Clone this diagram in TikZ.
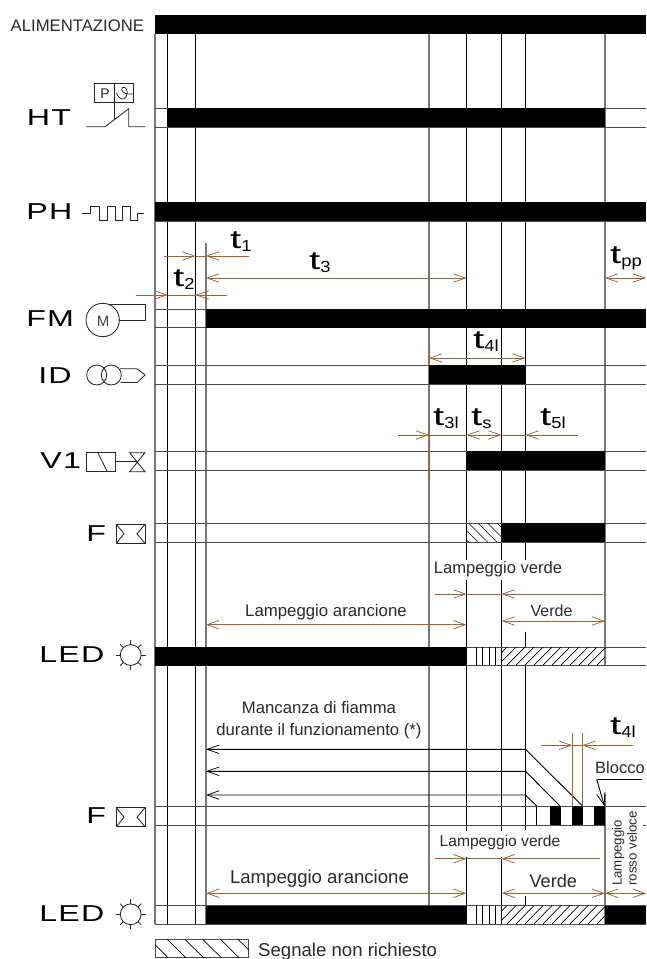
\documentclass[tikz,border=0pt]{standalone}
\usepackage{fontspec}
\setmainfont{Liberation Sans}
\newfontfamily\bigfont[LetterSpace=4]{Liberation Sans}
\usetikzlibrary{arrows.meta,calc}
\definecolor{brn}{HTML}{9C6238}
\definecolor{gln}{HTML}{777777}
\definecolor{tx}{HTML}{2A2A2A}
\newcommand{\tlab}[1]{\scalebox{1.55}[1]{\fontsize{26}{26}\selectfont t}\raisebox{-3pt}{\scalebox{1.15}[1]{\fontsize{16}{16}\selectfont #1}}}
\newcommand{\fs}[1]{\fontsize{#1}{#1}\selectfont}
\tikzset{
  >={Straight Barb[length=12pt,width=8.5pt,line width=.75pt]},
  gv/.style={draw=gln,line width=1.3pt},
  kv/.style={draw=black,line width=1pt},
  hl/.style={draw=black!70,line width=1pt},
  blk/.style={fill=black,draw=none},
  ba/.style={draw=brn,line width=.9pt},
  ka/.style={draw=black,line width=.9pt},
  ic/.style={draw=black!85,line width=.85pt},
  small/.style={text=tx,anchor=base,inner sep=0pt},
  biglab/.style={anchor=base west,inner sep=0pt,xscale=1.4,transform shape,font=\bigfont\fontsize{23}{23}\selectfont,text=black},
  tl/.style={anchor=base west,inner sep=0pt,text=black},
  hatchln/.style={draw=black,line width=.7pt},
}
\begin{document}
\begin{tikzpicture}[x=1pt,y=-1pt]
\useasboundingbox (0,0) rectangle (646,959);
\fill[white] (0,0) rectangle (646,959);
% verticals
\draw[gv] (155,34) -- (155,924);
\draw[kv] (167.5,34) -- (167.5,924);
\draw[kv] (195.5,34) -- (195.5,924);
\draw[gv] (206,243) -- (206,924);
\draw[gv] (429,34) -- (429,924);
\draw[kv] (466.5,34) -- (466.5,560) (466.5,580) -- (466.5,831) (466.5,857) -- (466.5,924);
\draw[kv] (501.5,34) -- (501.5,560) (501.5,580) -- (501.5,831) (501.5,857) -- (501.5,924);
\draw[kv] (525.5,34) -- (525.5,560) (525.5,632) -- (525.5,647) (525.5,665) -- (525.5,830) (525.5,896) -- (525.5,906);
\draw[gv] (605,34) -- (605,665) (605,794) -- (605,924);
% row lines
\foreach \a/\b in {108/127,202/221,309/327,365/384,451/470,523/542,647/665}{
  \draw[hl] (155,\a) -- (646,\a) (155,\b) -- (646,\b);
}
\draw[hl] (155,806) -- (646,806) (155,825) -- (606,825) (643,825) -- (646,825);
\draw[hl] (155,905.5) -- (646,905.5) (155,924) -- (646,924);
% bars
\fill[blk] (155,15) rectangle (646,34);
\fill[blk] (167.5,108) rectangle (605,127);
\fill[blk] (155,202) rectangle (646,221);
\fill[blk] (206,309) rectangle (646,327.5);
\fill[blk] (429,365) rectangle (525.5,384);
\fill[blk] (466.5,451) rectangle (605,470);
\fill[blk] (501.5,523) rectangle (605,542);
\fill[blk] (155,647) rectangle (466.5,665.5);
\fill[blk] (206,905.5) rectangle (466.5,924);
\fill[blk] (605,905.5) rectangle (646,924);
\fill[blk] (550,806) rectangle (561,825);
\fill[blk] (571.7,806) rectangle (582.7,825);
\fill[blk] (594,806) rectangle (605,825);
\draw[kv] (536.7,806) -- (536.7,825);
% hatches
\begin{scope}
\clip (466.5,523) rectangle (501.5,542);
\foreach \i in {440,449.5,...,510}{\draw[hatchln] (\i,523) -- (\i+19,542);}
\end{scope}
\begin{scope}
\clip (501.5,647) rectangle (605,665);
\foreach \i in {480,489,...,610}{\draw[hatchln] (\i+18,647) -- (\i,665);}
\end{scope}
\begin{scope}
\clip (501.5,905.5) rectangle (605,924);
\foreach \i in {480,489,...,610}{\draw[hatchln] (\i+18,905.5) -- (\i,924);}
\end{scope}
\foreach \yy/\zz in {647/665,905.5/924}{
  \foreach \xx in {476,482.7,489,495.5}{\draw[draw=black,line width=.8pt] (\xx,\yy) -- (\xx,\zz);}
}
\draw[hl,line width=1pt] (155,939) rectangle (248.5,957.7);
\begin{scope}
\clip (155,939) rectangle (248.5,957.7);
\foreach \i in {131.5,149.2,...,240}{\draw[hatchln] (\i,939) -- (\i+19,957.7);}
\end{scope}
% flame failure lines
\draw[ka,<-] (206,749.3) -- (525.5,749.3) -- (582.5,806);
\draw[ka,<-] (206,771.3) -- (525.5,771.3) -- (560,806);
\draw[ka,<-] (206,795) -- (525.5,795) -- (536.7,806);
% brown extensions
\draw[ba,line width=1pt] (572.3,733) -- (572.3,806);
\draw[ba,line width=1pt] (582.3,733) -- (582.3,806);
\draw[ba] (429,346) -- (429,365) (429,423) -- (429,480);
% brown arrows
\draw[ba] (195.5,256) -- (206,256);
\draw[ba,->] (164,256) -- (195.5,256);
\draw[ba,->] (249,256) -- (206,256);
\draw[ba] (167.5,295) -- (195.5,295);
\draw[ba,->] (136,295) -- (167.5,295);
\draw[ba,->] (227,295) -- (195.5,295);
\draw[ba,<->] (206,278) -- (466.5,278);
\draw[ba,<->] (605,278) -- (646,278);
\draw[ba,<->] (429,358) -- (525.5,358);
\draw[ba] (429,435) -- (466.5,435) (501.5,435) -- (525.5,435);
\draw[ba,->] (398,435) -- (429,435);
\draw[ba,<->] (466.5,435) -- (501.5,435);
\draw[ba,->] (578,435) -- (525.5,435);
\draw[ba] (466.5,594) -- (501.5,594);
\draw[ba,->] (435,594) -- (466.5,594);
\draw[ba,->] (603,594) -- (501.5,594);
\draw[ba,<->] (501.5,621) -- (605,621);
\draw[ba,<->] (206,624.7) -- (466.5,624.7);
\draw[ba] (572.3,745.3) -- (582.3,745.3);
\draw[ba,->] (541,745.3) -- (572.3,745.3);
\draw[ba,->] (633,745.3) -- (582.3,745.3);
\draw[ba] (466.5,858.7) -- (501.5,858.7);
\draw[ba,->] (435,858.7) -- (466.5,858.7);
\draw[ba,->] (600,858.7) -- (501.5,858.7);
\draw[ba,<->] (206,893.3) -- (466.5,893.3);
\draw[ba,<->] (501.5,893.3) -- (605,893.3);
\draw[ba,<->] (605,893.3) -- (646,893.3);
% blocco leader
\draw[draw=black,line width=.8pt] (642.3,779.3) -- (596.7,779.3);
\draw[ka,->] (596.7,779.3) -- (604.5,806);
% left labels
\node[anchor=base west,inner sep=0pt,text=tx,font=\fs{16.7}] (alim) at (10.5,31) {ALIMENTAZIONE};
\node[biglab] (ht) at (26.5,125) {HT};
\node[biglab] (ph) at (26,219) {PH};
\node[biglab] (fm) at (26,326) {FM};
\node[biglab] (id) at (38,383) {ID};
\node[biglab] (vone) at (40,468) {V1};
\node[biglab] (fa) at (86,541) {F};
\node[biglab] (leda) at (39,662) {LED};
\node[biglab] (fb) at (86,823) {F};
\node[biglab] (ledb) at (39,921) {LED};
% icons: HT
\draw[ic] (94.7,83.7) rectangle (114,102.3);
\draw[ic] (114,83.7) rectangle (133.3,102.3);
\node[inner sep=0pt,text=tx,font=\fs{14}] (pchar) at (105,93.2) {P};
\draw[ic,line width=.75pt] (116.5,93) .. controls (119,100) and (124,101) .. (126.5,96) .. controls (129,90) and (125,86) .. (122.5,87.5) .. controls (120,90) and (123,95) .. (133,94);
\draw[ic] (114,102.3) -- (114,119.5);
\draw[ic] (86.3,126.7) -- (105,126.7) -- (128.7,108.7) -- (128.7,126.7) -- (145,126.7);
% PH
\draw[ic] (82.3,213.3) -- (90.7,213.3) -- (90.7,206) -- (99.3,206) -- (99.3,220.7) -- (107.3,220.7) -- (107.3,206) -- (115,206) -- (115,220.7) -- (122.7,220.7) -- (122.7,206) -- (130.7,206) -- (130.7,220.7) -- (137.7,220.7) -- (137.7,213.3) -- (144,213.3);
% FM
\draw[ic] (102.7,320) circle[radius=16.7];
\node[inner sep=0pt,text=black!75,font=\fs{15}] (mchar) at (103,321) {M};
\draw[ic] (110,304) -- (145,304) -- (145,320) -- (119,320);
% ID
\draw[ic] (96.7,375) circle[radius=10];
\draw[ic] (111.3,375) circle[radius=10];
\draw[ic] (120,368.7) -- (137,368.7) -- (145,375) -- (137,382.5) -- (120.5,382.5);
% V1
\draw[ic] (86.7,452.7) rectangle (115.3,471.7);
\draw[ic] (97.7,452.7) -- (107.3,471.7);
\draw[ic] (115.3,461.7) -- (137,461.7);
\draw[ic] (129.7,452.7) -- (145,452.7) -- (129.7,471.7) -- (145,471.7) -- cycle;
% F icons
\foreach \yy in {524.3,807.7}{
  \draw[ic] (116.3,\yy) rectangle (145,\yy+19);
  \draw[ic] (116.3,\yy) -- (124,\yy+9.5) -- (116.3,\yy+19);
  \draw[ic] (145,\yy) -- (137,\yy+9.5) -- (145,\yy+19);
}
% LED icons
\foreach \cy in {655,914.3}{
  \draw[ic] (130.7,\cy) circle[radius=10.4];
  \foreach \ang in {0,45,...,315}{
    \draw[ic] ($(130.7,\cy)+(\ang:10.4)$) -- ($(130.7,\cy)+(\ang:15)$);
  }
}
% time labels
\node[tl] (tone) at (230,248) {\tlab{1}};
\node[tl] (ttwo) at (173,286) {\tlab{2}};
\node[tl] (tthree) at (309,269) {\tlab{3}};
\node[tl] (tpp) at (610,263) {\tlab{pp}};
\node[tl] (tfour) at (473,348) {\tlab{4l}};
\node[tl] (tthreel) at (433,425) {\tlab{3l}};
\node[tl] (ts) at (471,425) {\tlab{s}};
\node[tl] (tfive) at (540,425) {\tlab{5l}};
\node[tl] (tfourb) at (610,734) {\tlab{4l}};
% small text
\node[small,font=\fs{16.6}] (lv) at (498,573) {Lampeggio verde};
\node[small,font=\fs{16}] (va) at (551.5,616) {Verde};
\node[small,font=\fs{16.8}] (la) at (326,616.7) {Lampeggio arancione};
\node[small,font=\fs{16.7}] (man) at (319,713.3) {Mancanza di fiamma};
\node[small,font=\fs{16.7}] (dur) at (319,735) {durante il funzionamento (*)};
\node[small,font=\fs{18.6}] (lb) at (319.5,883) {Lampeggio arancione};
\node[small,font=\fs{15.6}] (lvb) at (500,846.7) {Lampeggio verde};
\node[small,font=\fs{18.2}] (vb) at (553.3,887) {Verde};
\node[small,font=\fs{16.5}] (bl) at (620,773) {Blocco};
\node[text=tx,anchor=base west,inner sep=0pt,rotate=90,font=\fs{13.3}] (rla) at (621.7,886) {Lampeggio};
\node[text=tx,anchor=base west,inner sep=0pt,rotate=90,font=\fs{13.3}] (rro) at (636.7,886) {rosso veloce};
\node[text=tx,anchor=base west,inner sep=0pt,font=\fs{18.6}] (seg) at (258,956.5) {Segnale non richiesto};
\end{tikzpicture}
\end{document}
